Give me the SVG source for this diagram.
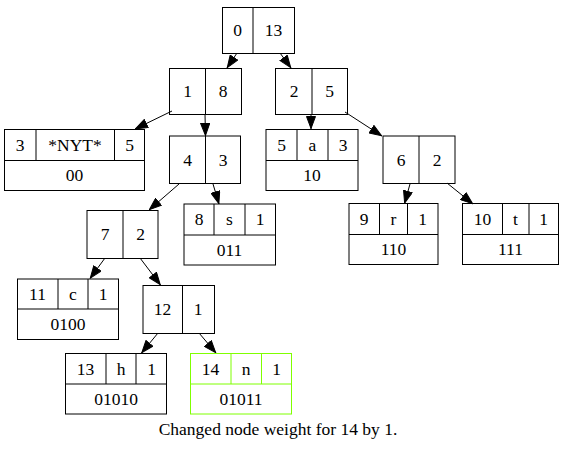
<svg xmlns="http://www.w3.org/2000/svg" width="564" height="452" viewBox="0 0 564 452">
<style>
.n rect,.n path{fill:none;stroke:#000;stroke-width:1}
.n.g rect,.n.g path{stroke:#7fff00}
text{font-size:17.5px;text-anchor:middle;fill:#000}
.e line{stroke:#000;stroke-width:1}
</style>
<defs>
<marker id="a" markerWidth="13" markerHeight="10" refX="13" refY="5" orient="auto" markerUnits="userSpaceOnUse">
<path d="M0.5,0.5 L12.5,5 L0.5,9.5 Z" fill="#000" stroke="#000"/>
</marker>
</defs>
<rect x="0" y="0" width="564" height="452" fill="#fff"/>
<g class="e" id="edges">
<line x1="237" y1="53" x2="227" y2="68" marker-end="url(#a)"/>
<line x1="280" y1="53" x2="291" y2="68" marker-end="url(#a)"/>
<line x1="172" y1="111" x2="135" y2="129" marker-end="url(#a)"/>
<line x1="205" y1="114" x2="205.5" y2="136" marker-end="url(#a)"/>
<line x1="179" y1="184" x2="149" y2="210" marker-end="url(#a)"/>
<line x1="213" y1="184" x2="219" y2="204" marker-end="url(#a)"/>
<line x1="311" y1="114" x2="311" y2="129" marker-end="url(#a)"/>
<line x1="345" y1="112" x2="382" y2="136" marker-end="url(#a)"/>
<line x1="410" y1="184" x2="404.5" y2="203.5" marker-end="url(#a)"/>
<line x1="447" y1="183" x2="473" y2="204" marker-end="url(#a)"/>
<line x1="105" y1="258" x2="90" y2="278.5" marker-end="url(#a)"/>
<line x1="140" y1="258" x2="160.5" y2="285" marker-end="url(#a)"/>
<line x1="158" y1="333" x2="141.5" y2="353" marker-end="url(#a)"/>
<line x1="199" y1="333" x2="216" y2="353" marker-end="url(#a)"/>
</g>
<g font-family="'Liberation Serif', 'Times New Roman', Times, serif">
<g id="n0" class="n"><rect x="222.5" y="7.5" width="72" height="46"/><path d="M253,7.5V53.5"/><text x="237.5" y="36">0</text><text x="273.5" y="36">13</text></g>
<g id="n1" class="n"><rect x="169.5" y="68.5" width="72" height="46"/><path d="M205.5,68.5V114.5"/><text x="187.5" y="97">1</text><text x="223" y="97">8</text></g>
<g id="n2" class="n"><rect x="275.5" y="68.5" width="72" height="46"/><path d="M312,68.5V114.5"/><text x="294" y="97">2</text><text x="329.5" y="97">5</text></g>
<g id="n3" class="n"><rect x="4.5" y="129.5" width="140" height="61"/><path d="M4.5,160.5H144.5M36,129.5V160.5M114.5,129.5V160.5"/><text x="20" y="150.5">3</text><text x="75" y="150.5">*NYT*</text><text x="129.5" y="150.5">5</text><text x="74.5" y="181">00</text></g>
<g id="n4" class="n"><rect x="169.5" y="136" width="71" height="47.5"/><path d="M205.5,136V183.5"/><text x="187.5" y="165.5">4</text><text x="223" y="165.5">3</text></g>
<g id="n5" class="n"><rect x="266" y="129.5" width="92" height="61"/><path d="M266,160.5H358M297,129.5V160.5M328,129.5V160.5"/><text x="281.5" y="150.5">5</text><text x="312.5" y="150.5">a</text><text x="343" y="150.5">3</text><text x="312" y="181">10</text></g>
<g id="n6" class="n"><rect x="383" y="136" width="72" height="47.5"/><path d="M419,136V183.5"/><text x="401" y="165.5">6</text><text x="437" y="165.5">2</text></g>
<g id="n7" class="n"><rect x="87" y="210.5" width="71" height="48"/><path d="M123,210.5V258.5"/><text x="105" y="240">7</text><text x="140.5" y="240">2</text></g>
<g id="n8" class="n"><rect x="184" y="204" width="91.5" height="61"/><path d="M184,235H275.5M214,204V235M245,204V235"/><text x="199" y="225">8</text><text x="229.5" y="225">s</text><text x="260" y="225">1</text><text x="229.5" y="255.5">011</text></g>
<g id="n9" class="n"><rect x="349" y="203.5" width="89" height="61"/><path d="M349,234.5H438M379.5,203.5V234.5M407.5,203.5V234.5"/><text x="364" y="224.5">9</text><text x="393.5" y="224.5">r</text><text x="422.5" y="224.5">1</text><text x="393.5" y="255">110</text></g>
<g id="n10" class="n"><rect x="462.5" y="203.5" width="96" height="61"/><path d="M462.5,234.5H558.5M502.5,203.5V234.5M529,203.5V234.5"/><text x="482.5" y="224.5">10</text><text x="515.5" y="224.5">t</text><text x="543.5" y="224.5">1</text><text x="510.5" y="255">111</text></g>
<g id="n11" class="n"><rect x="17.5" y="279" width="101" height="60.5"/><path d="M17.5,309H118.5M58,279V309M88,279V309"/><text x="37.5" y="299.5">11</text><text x="73" y="299.5">c</text><text x="103" y="299.5">1</text><text x="68" y="330">0100</text></g>
<g id="n12" class="n"><rect x="143" y="285.5" width="71.5" height="48"/><path d="M182.5,285.5V333.5"/><text x="162.5" y="315">12</text><text x="198" y="315">1</text></g>
<g id="n13" class="n"><rect x="65.5" y="353.5" width="101" height="60.5"/><path d="M65.5,384H166.5M106,353.5V384M136,353.5V384"/><text x="85.5" y="374.5">13</text><text x="121" y="374.5">h</text><text x="151.5" y="374.5">1</text><text x="116" y="404.5">01010</text></g>
<g id="n14" class="n g"><rect x="190.5" y="353.5" width="101" height="60.5"/><path d="M190.5,384H291.5M231,353.5V384M261.5,353.5V384"/><text x="210.5" y="374.5">14</text><text x="246" y="374.5">n</text><text x="276.5" y="374.5">1</text><text x="241" y="404.5">01011</text></g>
<text x="278" y="435">Changed node weight for 14 by 1.</text>
</g>
</svg>
